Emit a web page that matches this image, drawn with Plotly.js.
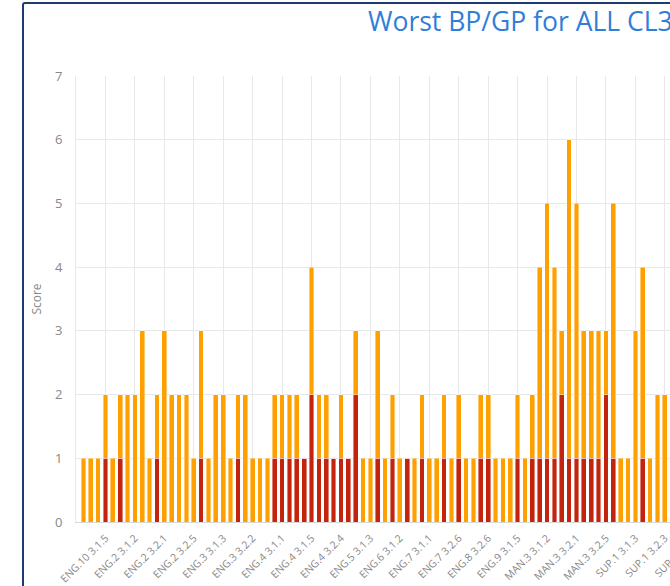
<!DOCTYPE html>
<html>
<head>
<meta charset="utf-8">
<script src="https://cdn.plot.ly/plotly-3.0.1.min.js"></script>
<style>
  html, body { margin: 0; padding: 0; width: 670px; height: 586px; overflow: hidden; background: #fff; }
  #chart { position: absolute; left: 0; top: 0; }
  #frame { position: absolute; left: 22px; top: 2px; width: 900px; height: 700px;
           border: 2px solid #1f3a73; border-radius: 3px; pointer-events: none; box-sizing: border-box; }
</style>
</head>
<body>
<div id="chart"></div>
<div id="frame"></div>
<script>
// Values (one entry per bar, left to right)
const redValues = [
  0,0,0,1,0,1,0,0,0,0, 1,0,0,0,0,0,1,0,0,0,
  0,1,0,0,0,0,1,1,1,1, 1,2,1,1,1,1,1,2,0,0,
  1,0,1,0,1,0,1,0,0,1, 0,1,0,0,1,1,0,0,0,1,
  0,1,1,1,1,2,1,1,1,1, 1,2,1,0,0,0,1,0,0,0
];
const orangeValues = [
  1,1,1,1,1,1,2,2,3,1, 1,3,2,2,2,1,2,1,2,2,
  1,1,2,1,1,1,1,1,1,1, 0,2,1,1,0,1,0,1,1,1,
  2,1,1,1,0,1,1,1,1,1, 1,1,1,1,1,1,1,1,1,1,
  1,1,3,4,3,1,5,4,2,2, 2,1,4,1,1,3,3,1,2,2
];
const tickPositions = [3,7,11,15,19,23,27,31,35,39,43,47,51,55,59,63,67,71,75,79,83];
const tickLabels = [
  "ENG.10 3.1.5","ENG.2 3.1.2","ENG.2 3.2.1","ENG.2 3.2.5","ENG.3 3.1.3",
  "ENG.3 3.2.2","ENG.4 3.1.1","ENG.4 3.1.5","ENG.4 3.2.4","ENG.5 3.1.3",
  "ENG.6 3.1.2","ENG.7 3.1.1","ENG.7 3.2.6","ENG.8 3.2.6","ENG.9 3.1.5",
  "MAN.3 3.1.2","MAN.3 3.2.1","MAN.3 3.2.5","SUP.1 3.1.3","SUP.1 3.2.3",
  "SUP.1 3.3.1"
];
const xIndex = redValues.map((_, i) => i);

const lineStyle = { color: 'rgba(255,255,255,0.7)', width: 0.6 };
const traces = [
  { type: 'bar', x: xIndex, y: redValues, name: 'BP',
    marker: { color: '#C4230E', line: lineStyle }, hoverinfo: 'y' },
  { type: 'bar', x: xIndex, y: orangeValues, name: 'GP',
    marker: { color: '#FFA000', line: lineStyle }, hoverinfo: 'y' }
];

const W = 822, H = 586;
const layout = {
  width: W, height: H,
  margin: { l: 76, r: 10, t: 76, b: 64 },
  paper_bgcolor: 'rgba(0,0,0,0)', plot_bgcolor: '#fff',
  barmode: 'stack', bargap: 0.36, showlegend: false,
  font: { family: '"Open Sans", "Noto Sans", sans-serif', color: '#666' },
  title: {
    text: 'Worst BP/GP for ALL CL3',
    font: { size: 26.5, color: '#2f7ed8', family: '"Open Sans", sans-serif' },
    xref: 'container', x: 368 / W, xanchor: 'left',
    yref: 'container', y: 1 - 22 / H, yanchor: 'middle'
  },
  xaxis: {
    type: 'linear', range: [-1, 99],
    tickmode: 'array', tickvals: tickPositions, ticktext: tickLabels,
    tickangle: -45, tickfont: { size: 10.5, color: '#888' },
    ticks: 'outside', ticklen: 5, tickcolor: 'rgba(0,0,0,0)',
    showgrid: true, gridcolor: '#e8e8e8', gridwidth: 1,
    showline: true, linecolor: '#d8d8d8', zeroline: false, fixedrange: true
  },
  yaxis: {
    range: [0, 7], dtick: 1, tick0: 0,
    tickfont: { size: 13, color: '#888' },
    showgrid: true, gridcolor: '#e8e8e8', gridwidth: 1,
    showline: true, linecolor: '#e8e8e8', zeroline: false,
    ticks: 'outside', ticklen: 10, tickcolor: 'rgba(0,0,0,0)',
    title: { text: 'Score', font: { size: 12, color: '#888' }, standoff: 10 },
    fixedrange: true
  }
};

Plotly.newPlot('chart', traces, layout, { displayModeBar: false, staticPlot: true });
</script>
</body>
</html>
